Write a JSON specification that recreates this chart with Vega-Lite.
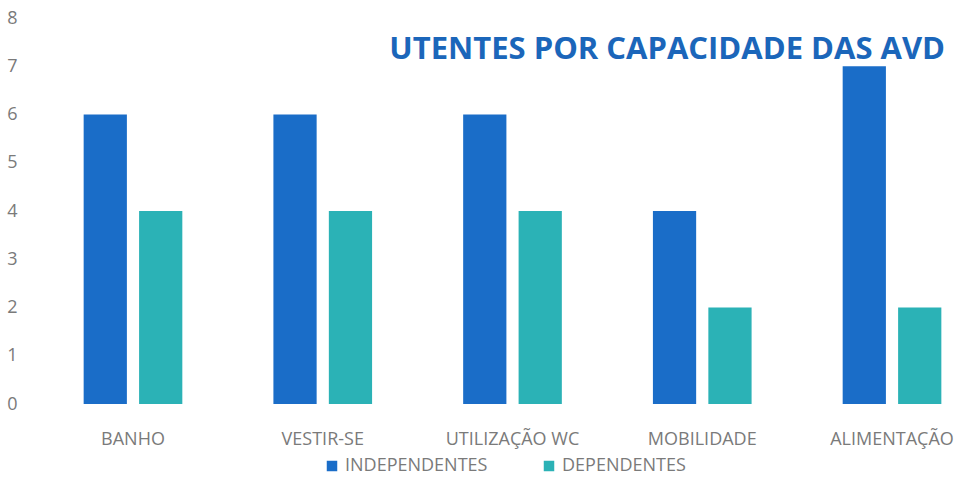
{
  "$schema": "https://vega.github.io/schema/vega-lite/v6.json",
  "autosize": "none",
  "width": 915,
  "height": 386,
  "padding": {"left": 55, "top": 18, "right": 0, "bottom": 80},
  "background": "white",
  "title": {
    "text": "UTENTES POR CAPACIDADE DAS AVD",
    "anchor": "end",
    "frame": "group",
    "orient": "top",
    "offset": -44,
    "dx": -25,
    "dy": 37,
    "baseline": "alphabetic",
    "font": "Open Sans",
    "fontSize": 31,
    "fontWeight": "bold",
    "color": "#1b66ba"
  },
  "data": {
    "values": [
      {"categoria": "BANHO", "grupo": "INDEPENDENTES", "valor": 6},
      {"categoria": "BANHO", "grupo": "DEPENDENTES", "valor": 4},
      {"categoria": "VESTIR-SE", "grupo": "INDEPENDENTES", "valor": 6},
      {"categoria": "VESTIR-SE", "grupo": "DEPENDENTES", "valor": 4},
      {"categoria": "UTILIZAÇÃO WC", "grupo": "INDEPENDENTES", "valor": 6},
      {"categoria": "UTILIZAÇÃO WC", "grupo": "DEPENDENTES", "valor": 4},
      {"categoria": "MOBILIDADE", "grupo": "INDEPENDENTES", "valor": 4},
      {"categoria": "MOBILIDADE", "grupo": "DEPENDENTES", "valor": 2},
      {"categoria": "ALIMENTAÇÃO", "grupo": "INDEPENDENTES", "valor": 7},
      {"categoria": "ALIMENTAÇÃO", "grupo": "DEPENDENTES", "valor": 2}
    ]
  },
  "mark": {"type": "bar"},
  "encoding": {
    "x": {
      "field": "categoria",
      "type": "nominal",
      "sort": null,
      "scale": {"paddingInner": 0.48, "paddingOuter": 0.151},
      "axis": {
        "title": null,
        "labelAngle": 0,
        "domain": false,
        "ticks": false,
        "labelPadding": 26,
        "labelFont": "Open Sans",
        "labelFontSize": 18,
        "labelColor": "#7a7a7a"
      }
    },
    "xOffset": {
      "field": "grupo",
      "type": "nominal",
      "sort": ["INDEPENDENTES", "DEPENDENTES"],
      "scale": {"paddingInner": 0.22, "paddingOuter": 0}
    },
    "y": {
      "field": "valor",
      "type": "quantitative",
      "scale": {"domain": [0, 8], "nice": false},
      "axis": {
        "title": null,
        "values": [0, 1, 2, 3, 4, 5, 6, 7, 8],
        "grid": false,
        "domain": false,
        "ticks": false,
        "labelPadding": 38,
        "labelFont": "Open Sans",
        "labelFontSize": 18,
        "labelColor": "#7a7a7a"
      }
    },
    "color": {
      "field": "grupo",
      "type": "nominal",
      "sort": ["INDEPENDENTES", "DEPENDENTES"],
      "scale": {"domain": ["INDEPENDENTES", "DEPENDENTES"], "range": ["#1a6dc8", "#2bb2b6"]},
      "legend": {
        "title": null,
        "orient": "none",
        "direction": "horizontal",
        "legendX": 268,
        "legendY": 439,
        "symbolType": "square",
        "symbolSize": 110,
        "symbolStrokeWidth": 0,
        "columnPadding": 52,
        "labelOffset": 4,
        "labelFont": "Open Sans",
        "labelFontSize": 18,
        "labelColor": "#7a7a7a"
      }
    }
  },
  "config": {"view": {"stroke": null}}
}
